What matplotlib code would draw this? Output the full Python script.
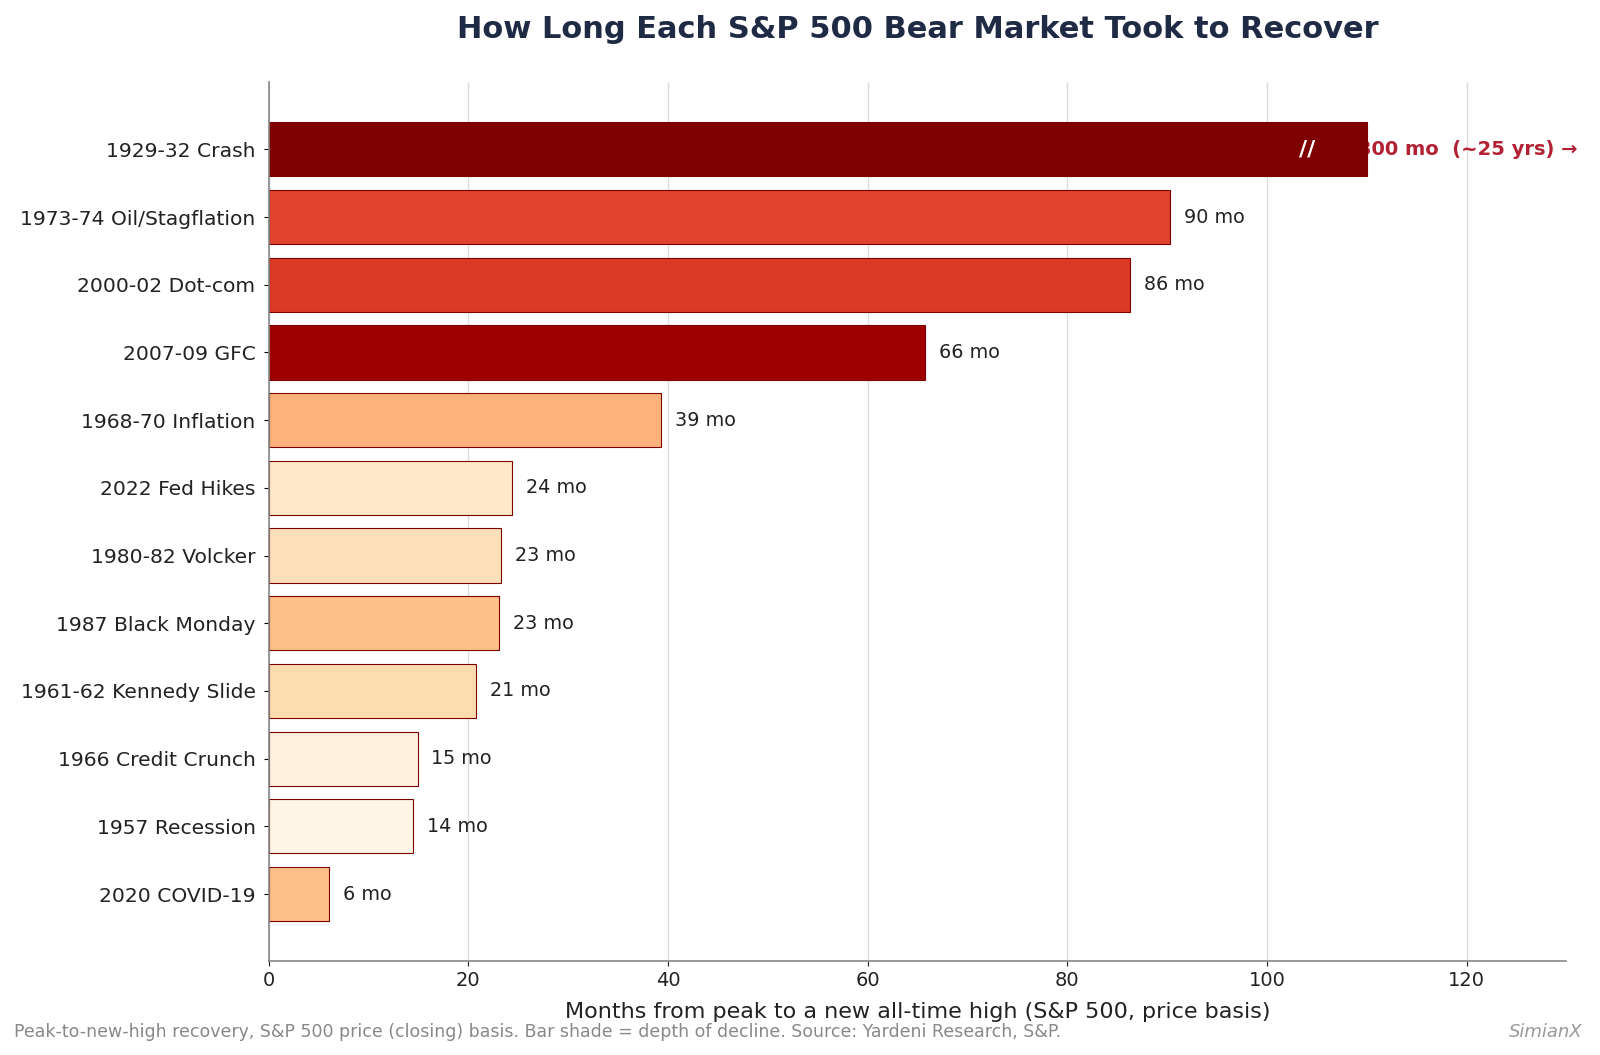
import numpy as np
import matplotlib
matplotlib.use("Agg")
import matplotlib.pyplot as plt
from matplotlib import colors

# recovery data (months from peak to new high); 1929 bar is capped on the axis
events = ['1929-32 Crash', '1973-74 Oil/Stagflation', '2000-02 Dot-com', '2007-09 GFC',
          '1968-70 Inflation', '2022 Fed Hikes', '1980-82 Volcker', '1987 Black Monday',
          '1961-62 Kennedy Slide', '1966 Credit Crunch', '1957 Recession', '2020 COVID-19']
months = [300, 90.3, 86.3, 65.7, 39.3, 24.4, 23.3, 23.1, 20.8, 14.9, 14.4, 6.0]
depth = [86, 48, 49, 57, 36, 25, 27, 34, 28, 22, 21, 34]  # % decline, drives shade
cap = 110

shown = [min(m, cap) for m in months]
norm = colors.Normalize(vmin=20, vmax=60, clip=True)
cmap = plt.get_cmap('OrRd')
bar_colors = [cmap(norm(d)) for d in depth]

fig, ax = plt.subplots(figsize=(16, 10.55), dpi=100)
fig.subplots_adjust(left=0.168, right=0.979, top=0.922, bottom=0.089)

y = np.arange(len(events))
ax.barh(y, shown, height=0.8, color=bar_colors, edgecolor='#7f0000', linewidth=0.8, zorder=2)
ax.invert_yaxis()

for i, m in enumerate(months):
    if m > cap:
        ax.text(cap - 6, i, '//', color='white', fontsize=16, fontweight='bold',
                ha='center', va='center', zorder=3)
        ax.text(cap - 0.9, i, f'{m:.0f} mo  (~{m/12:.0f} yrs) \u2192', color='#b22234',
                fontsize=14, fontweight='bold', ha='left', va='center', zorder=1)
    else:
        ax.text(m + 1.4, i, f'{round(m)} mo', fontsize=13.8, color='#222222',
                ha='left', va='center', zorder=3)

ax.set_yticks(y)
ax.set_yticklabels(events, fontsize=14.6, color='#222222')
ax.tick_params(axis='y', pad=6)
ax.set_xlim(0, 130)
ax.set_xticks(range(0, 121, 20))
ax.tick_params(axis='x', labelsize=14, colors='#222222')
ax.set_xlabel('Months from peak to a new all-time high (S&P 500, price basis)', fontsize=16,
              color='#222222', labelpad=9)
ax.set_title('How Long Each S&P 500 Bear Market Took to Recover', fontsize=22,
             fontweight='bold', color='#1f2a44', pad=32)

ax.grid(axis='x', color='#dddddd', linewidth=1, zorder=0)
ax.set_axisbelow(True)
for s in ['top', 'right']:
    ax.spines[s].set_visible(False)
for s in ['left', 'bottom']:
    ax.spines[s].set_color('#888888')
    ax.spines[s].set_linewidth(1.2)

fig.text(0.009, 0.022, 'Peak-to-new-high recovery, S&P 500 price (closing) basis. Bar shade = depth of decline. Source: Yardeni Research, S&P.',
         fontsize=12.5, color='#888888', ha='left', va='center')
fig.text(0.989, 0.022, 'SimianX', fontsize=13, color='#999999', style='italic', ha='right', va='center')

fig.savefig('out.png', dpi=100)
